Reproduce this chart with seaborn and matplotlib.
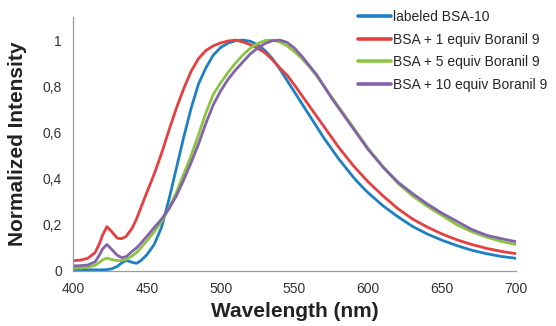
import numpy as np
import pandas as pd
import matplotlib
matplotlib.use("Agg")
import matplotlib.pyplot as plt
import seaborn as sns

wavelength = [400, 405, 410, 415, 418, 420, 423, 426, 430, 433, 436, 440, 443, 446, 450,
              455, 460, 465, 470, 475, 480, 485, 490, 495, 500, 505, 510, 515, 520, 525,
              530, 535, 540, 545, 550, 555, 560, 565, 570, 575, 580, 585, 590, 595, 600,
              610, 620, 630, 640, 650, 660, 670, 680, 690, 700]

labeled_bsa = [0.005, 0.005, 0.005, 0.005, 0.005, 0.005, 0.006, 0.009, 0.020, 0.035, 0.046, 0.038, 0.033, 0.045, 0.070,
               0.115, 0.190, 0.310, 0.445, 0.580, 0.705, 0.810, 0.880, 0.935, 0.968, 0.987, 0.997, 1.000, 0.995, 0.980,
               0.955, 0.920, 0.875, 0.825, 0.775, 0.725, 0.675, 0.625, 0.575, 0.530, 0.485, 0.445, 0.405, 0.370, 0.338,
               0.282, 0.235, 0.193, 0.160, 0.133, 0.110, 0.090, 0.075, 0.063, 0.055]

bsa_1eq = [0.045, 0.047, 0.055, 0.080, 0.120, 0.155, 0.192, 0.172, 0.142, 0.140, 0.150, 0.185, 0.225, 0.275, 0.340,
           0.420, 0.510, 0.610, 0.705, 0.790, 0.865, 0.920, 0.955, 0.975, 0.988, 0.996, 1.000, 0.992, 0.980, 0.965,
           0.945, 0.915, 0.880, 0.848, 0.805, 0.760, 0.715, 0.670, 0.625, 0.580, 0.535, 0.495, 0.455, 0.420, 0.385,
           0.325, 0.270, 0.225, 0.190, 0.160, 0.135, 0.115, 0.098, 0.085, 0.075]

bsa_5eq = [0.012, 0.013, 0.016, 0.025, 0.038, 0.048, 0.056, 0.050, 0.045, 0.045, 0.050, 0.065, 0.080, 0.100, 0.130,
           0.170, 0.215, 0.272, 0.340, 0.420, 0.500, 0.590, 0.685, 0.765, 0.815, 0.860, 0.900, 0.935, 0.965, 0.985,
           0.998, 1.000, 0.992, 0.975, 0.950, 0.920, 0.885, 0.845, 0.800, 0.755, 0.710, 0.665, 0.620, 0.575, 0.530,
           0.450, 0.380, 0.325, 0.280, 0.240, 0.200, 0.170, 0.147, 0.128, 0.115]

bsa_10eq = [0.022, 0.023, 0.026, 0.040, 0.070, 0.095, 0.115, 0.095, 0.068, 0.058, 0.062, 0.085, 0.100, 0.120, 0.150,
            0.188, 0.225, 0.270, 0.325, 0.395, 0.470, 0.550, 0.640, 0.720, 0.780, 0.830, 0.870, 0.905, 0.940, 0.965,
            0.985, 0.997, 1.000, 0.990, 0.965, 0.930, 0.890, 0.850, 0.800, 0.750, 0.705, 0.660, 0.615, 0.570, 0.525,
            0.450, 0.385, 0.335, 0.290, 0.250, 0.215, 0.180, 0.155, 0.140, 0.127]

series_names = ["labeled BSA-10", "BSA + 1 equiv Boranil 9",
                "BSA + 5 equiv Boranil 9", "BSA + 10 equiv Boranil 9"]
series_values = [labeled_bsa, bsa_1eq, bsa_5eq, bsa_10eq]
colors = ["#1f7fc4", "#e5403f", "#8cc540", "#8361ab"]

x_ticks = [400, 450, 500, 550, 600, 650, 700]
y_ticks = [0, 0.2, 0.4, 0.6, 0.8, 1]
y_tick_labels = ["0", "0,2", "0,4", "0,6", "0,8", "1"]

frames = []
for name, vals in zip(series_names, series_values):
    frames.append(pd.DataFrame({"Wavelength": wavelength, "Intensity": vals, "Sample": name}))
df = pd.concat(frames, ignore_index=True)

sns.set_style("white")
plt.rcParams["font.family"] = ["Liberation Sans", "DejaVu Sans"]

fig = plt.figure(figsize=(5.56, 3.26), dpi=100)
ax = fig.add_axes([73 / 556, 1 - 271 / 326, (516 - 73) / 556, (271 - 17) / 326])

sns.lineplot(data=df, x="Wavelength", y="Intensity", hue="Sample",
             hue_order=series_names, palette=colors, linewidth=2.0, ax=ax,
             legend=True)

ax.set_xlim(400, 700)
ax.set_ylim(0, 1.1)
ax.set_xticks(x_ticks)
ax.set_yticks(y_ticks)
ax.set_yticklabels(y_tick_labels)
ax.tick_params(axis="both", labelsize=10, colors="#333333", length=4, width=0.8,
               direction="out", pad=4)
ax.tick_params(axis="both", color="#9a9a9a")
for side in ["top", "right"]:
    ax.spines[side].set_visible(False)
for side in ["left", "bottom"]:
    ax.spines[side].set_color("#9a9a9a")
    ax.spines[side].set_linewidth(0.9)

ax.set_xlabel("Wavelength (nm)", fontsize=15, fontweight="bold", color="#222222", labelpad=4)
ax.set_ylabel("Normalized Intensity", fontsize=15, fontweight="bold", color="#222222", labelpad=11)

handles, labels = ax.get_legend_handles_labels()
for h in handles:
    h.set_linewidth(2.6)
leg = fig.legend(handles, labels, loc="upper left", bbox_to_anchor=(358 / 556, 1 - 10 / 326),
                 frameon=False, fontsize=10, handlelength=2.4, handletextpad=0.1,
                 labelspacing=0.62, borderaxespad=0, borderpad=0)
if ax.get_legend():
    ax.get_legend().remove()

fig.savefig("out.png", dpi=100)
